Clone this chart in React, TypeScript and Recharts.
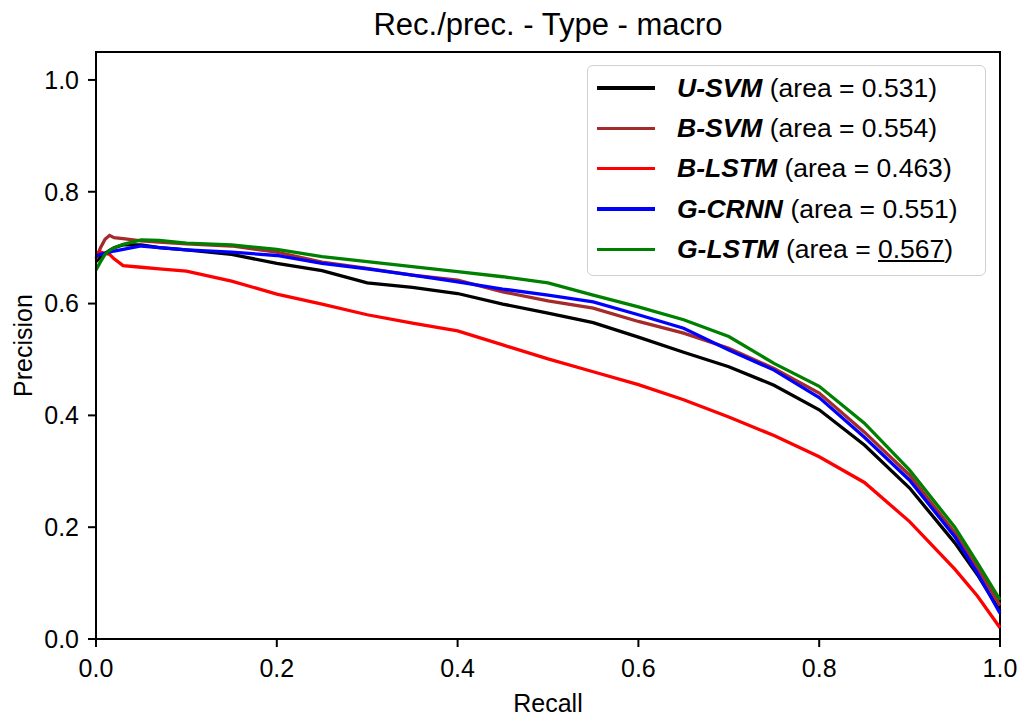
import React from "react";
import {
  LineChart,
  Line,
  XAxis,
  YAxis,
  Legend,
  ReferenceArea,
} from "recharts";

const recall = [
  0, 0.005, 0.01, 0.015, 0.02, 0.03, 0.05, 0.07, 0.1, 0.15, 0.2, 0.25, 0.3,
  0.35, 0.4, 0.45, 0.5, 0.55, 0.6, 0.65, 0.7, 0.75, 0.8, 0.85, 0.9, 0.95,
  0.975, 1.0,
];

const uSvm = [
  0.675, 0.683, 0.69, 0.695, 0.7, 0.705, 0.705, 0.7, 0.696, 0.688, 0.672,
  0.659, 0.637, 0.629, 0.618, 0.599, 0.583, 0.566, 0.54, 0.513, 0.487, 0.454,
  0.41, 0.347, 0.27, 0.172, 0.115, 0.05,
];
const bSvm = [
  0.68, 0.7, 0.715, 0.722, 0.718, 0.716, 0.712, 0.71, 0.707, 0.703, 0.692,
  0.674, 0.663, 0.651, 0.642, 0.621, 0.605, 0.592, 0.568, 0.547, 0.52, 0.484,
  0.44, 0.37, 0.293, 0.19, 0.127, 0.06,
];
const bLstm = [
  0.69, 0.692, 0.69, 0.688, 0.68, 0.668, 0.665, 0.662, 0.658, 0.64, 0.617,
  0.599, 0.58, 0.565, 0.551, 0.526, 0.501, 0.478, 0.455, 0.428, 0.397, 0.364,
  0.326, 0.28, 0.21, 0.125, 0.077, 0.02,
];
const gCrnn = [
  0.685, 0.688, 0.69, 0.692, 0.694, 0.697, 0.703, 0.7, 0.696, 0.692, 0.686,
  0.672, 0.662, 0.651, 0.639, 0.626, 0.615, 0.603, 0.58, 0.556, 0.517, 0.481,
  0.432, 0.361, 0.284, 0.183, 0.118, 0.046,
];
const gLstm = [
  0.66, 0.675, 0.688, 0.695, 0.7, 0.706, 0.714, 0.713, 0.708, 0.705, 0.697,
  0.684, 0.675, 0.666, 0.657, 0.648, 0.637, 0.615, 0.594, 0.571, 0.541, 0.493,
  0.452, 0.386, 0.302, 0.2, 0.136, 0.07,
];

const models = [
  { key: "uSvm", name: "U-SVM", area: "0.531", color: "#000000", values: uSvm },
  { key: "bSvm", name: "B-SVM", area: "0.554", color: "#a52a2a", values: bSvm },
  { key: "bLstm", name: "B-LSTM", area: "0.463", color: "#ff0000", values: bLstm },
  { key: "gCrnn", name: "G-CRNN", area: "0.551", color: "#0000ff", values: gCrnn },
  { key: "gLstm", name: "G-LSTM", area: "0.567", color: "#008000", values: gLstm, best: true },
];

const ticks = [0, 0.2, 0.4, 0.6, 0.8, 1.0];

const data = recall.map((r, i) => {
  const row: { [k: string]: number } = { recall: r };
  models.forEach((m) => {
    row[m.key] = m.values[i];
  });
  return row;
});

const font = '"Liberation Sans", Arial, Helvetica, sans-serif';

const renderLegend = () => (
  <div
    style={{
      width: 399,
      height: 211,
      boxSizing: "border-box",
      border: "1.5px solid #d0d0d0",
      borderRadius: 6,
      background: "#fff",
      padding: "2px 0 0 9px",
      fontFamily: font,
      fontSize: 26.5,
      color: "#000",
    }}
  >
    {models.map((m) => (
      <div
        key={m.key}
        style={{ display: "flex", alignItems: "center", height: 40.3 }}
      >
        <span
          style={{
            display: "inline-block",
            width: 58,
            height: 3.4,
            background: m.color,
            marginRight: 22,
          }}
        />
        <span style={{ whiteSpace: "nowrap" }}>
          <b>
            <i>{m.name}</i>
          </b>{" "}
          (area = {m.best ? <u>{m.area}</u> : m.area})
        </span>
      </div>
    ))}
  </div>
);

export default function App() {
  return (
    <div
      style={{
        position: "absolute",
        left: 0,
        top: 0,
        width: 1022,
        height: 717,
        background: "#fff",
        fontFamily: font,
      }}
    >
      <div
        style={{
          position: "absolute",
          left: 0,
          width: 1096,
          top: 9,
          textAlign: "center",
          fontSize: 31,
          lineHeight: "31px",
          color: "#000",
        }}
      >
        Rec./prec. - Type - macro
      </div>
      <LineChart
        width={1022}
        height={717}
        data={data}
        margin={{ top: 52, right: 22, bottom: 0, left: 0 }}
      >
        <XAxis
          dataKey="recall"
          type="number"
          domain={[0, 1]}
          ticks={ticks}
          tickFormatter={(v: number) => v.toFixed(1)}
          height={78}
          tickSize={8}
          tickMargin={12}
          axisLine={{ stroke: "#000", strokeWidth: 2 }}
          tickLine={{ stroke: "#000", strokeWidth: 2 }}
          tick={{ fontSize: 25, fill: "#000", fontFamily: font }}
          label={{
            value: "Recall",
            position: "insideBottom",
            offset: 5,
            style: { fontSize: 25, fill: "#000", fontFamily: font },
          }}
        />
        <YAxis
          type="number"
          domain={[0, 1.05]}
          ticks={ticks}
          tickFormatter={(v: number) => v.toFixed(1)}
          width={96}
          tickSize={8}
          tickMargin={9}
          axisLine={{ stroke: "#000", strokeWidth: 2 }}
          tickLine={{ stroke: "#000", strokeWidth: 2 }}
          tick={{ fontSize: 25, fill: "#000", fontFamily: font }}
          label={{
            content: () => (
              <text
                x={23}
                y={345.5}
                transform="rotate(-90, 23, 345.5)"
                textAnchor="middle"
                dominantBaseline="central"
                fontSize={25}
                fill="#000"
                fontFamily={font}
              >
                Precision
              </text>
            ),
          }}
        />
        <ReferenceArea
          x1={0}
          x2={1}
          y1={0}
          y2={1.05}
          fill="none"
          stroke="#000"
          strokeWidth={2}
          fillOpacity={0}
          ifOverflow="visible"
        />
        {models.map((m) => (
          <Line
            key={m.key}
            dataKey={m.key}
            name={m.name}
            type="linear"
            stroke={m.color}
            strokeWidth={3.3}
            dot={false}
            activeDot={false}
            isAnimationActive={false}
          />
        ))}
        <Legend
          layout="vertical"
          align="center"
          verticalAlign="middle"
          content={renderLegend}
          wrapperStyle={{ position: "absolute", left: 587, top: 65, width: 399 }}
        />
      </LineChart>
    </div>
  );
}
